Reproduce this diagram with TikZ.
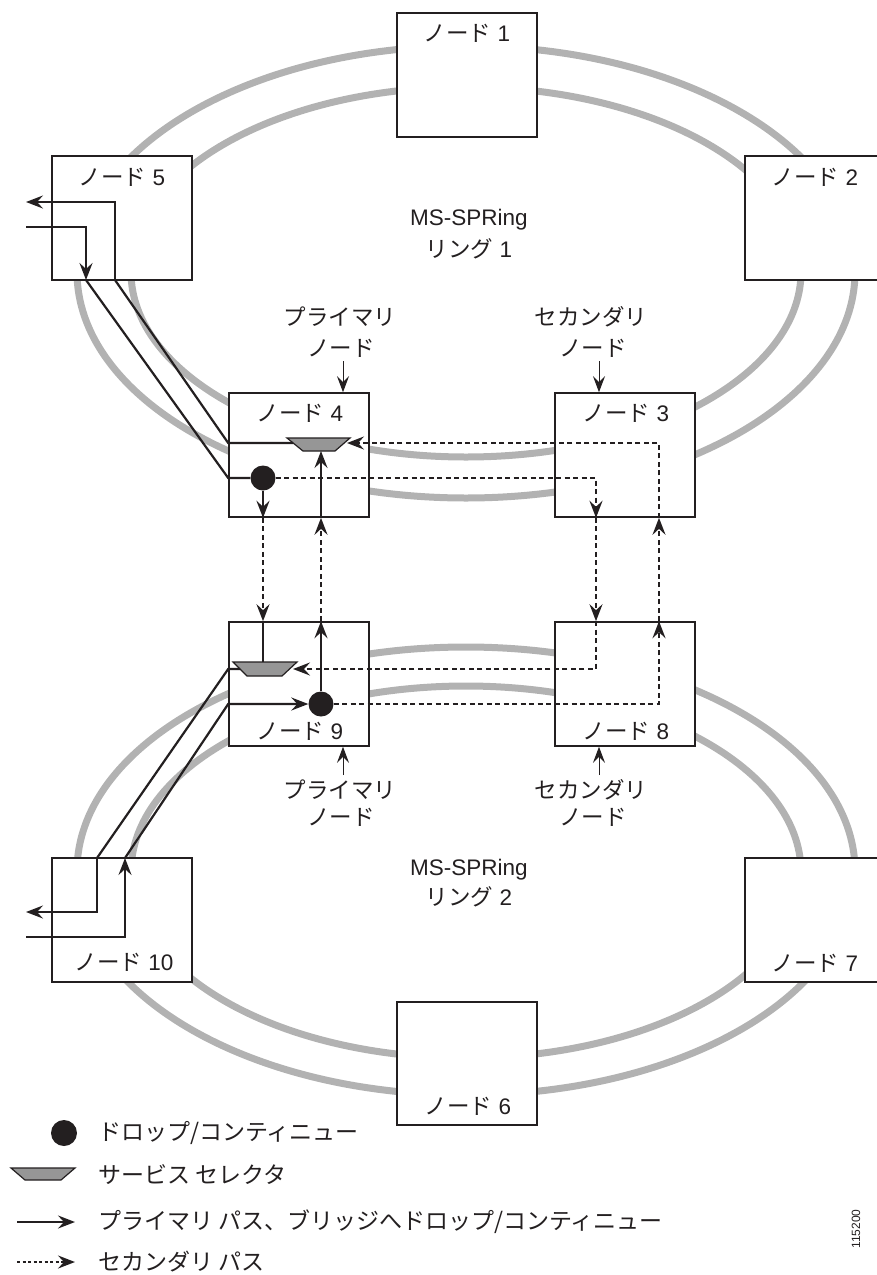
\documentclass[tikz,border=0pt]{standalone}
\usepackage{fontspec}
\setmainfont{Liberation Sans}
\newfontfamily\cjk{Noto Sans CJK JP}
\newcommand{\jp}[1]{{\cjk #1}}
\usetikzlibrary{arrows.meta}
\definecolor{ringgray}{RGB}{178,178,178}
\definecolor{selgray}{RGB}{150,150,150}
\definecolor{ink}{RGB}{35,31,32}
\begin{document}
\begin{tikzpicture}[x=1pt,y=-1pt,
  ring/.style={draw=ringgray, line width=7pt},
  box/.style={draw=ink, line width=1.6pt, fill=white, minimum width=140pt, minimum height=124pt, inner sep=0pt},
  lbl/.style={font=\fontsize{22.5}{26}\selectfont, inner sep=0pt, text=ink},
  leg/.style={font=\fontsize{23}{27}\selectfont, inner sep=0pt, anchor=west, text=ink},
  sol/.style={draw=ink, line width=2.2pt},
  dsh/.style={draw=ink, line width=2.2pt, dash pattern=on 5pt off 3.5pt},
  tip/.style={-{Stealth[length=17pt,width=13pt,inset=6pt]}},
  sel/.style={draw=ink, fill=selgray, line width=1.2pt},
  dotc/.style={circle, fill=ink, minimum size=25pt, inner sep=0pt},
  ptr/.style={draw=ink, line width=1pt, -{Stealth[length=16pt,width=12pt,inset=6pt]}},
]
\useasboundingbox (0,0) rectangle (876,1275);

% rings
\draw[ring] (466,272) ellipse [x radius=389pt, y radius=226pt];
\draw[ring] (466,272) ellipse [x radius=335pt, y radius=185pt];
\draw[ring] (466,871) ellipse [x radius=389pt, y radius=224pt];
\draw[ring] (466,872) ellipse [x radius=335pt, y radius=186pt];

% boxes
\node[box] (n1) at (467,75) {};
\node[box] (n5) at (122,218) {};
\node[box] (n2) at (815,218) {};
\node[box] (n4) at (299,455) {};
\node[box] (n3) at (625,455) {};
\node[box] (n9) at (299,684) {};
\node[box] (n8) at (625,684) {};
\node[box] (n10) at (122,920) {};
\node[box] (n7) at (815,920) {};
\node[box, minimum height=123pt] (n6) at (467,1063.5) {};

% box labels
\node[lbl] (l1) at (467,33) {\jp{ノード} 1};
\node[lbl] (l5) at (122,177) {\jp{ノード} 5};
\node[lbl] (l2) at (815,177) {\jp{ノード} 2};
\node[lbl] (l4) at (300,413) {\jp{ノード} 4};
\node[lbl] (l3) at (626,413) {\jp{ノード} 3};
\node[lbl] (l9) at (300,731) {\jp{ノード} 9};
\node[lbl] (l8) at (626,731) {\jp{ノード} 8};
\node[lbl] (l10) at (124,962) {\jp{ノード} 10};
\node[lbl] (l7) at (815,963) {\jp{ノード} 7};
\node[lbl] (l6) at (468,1106) {\jp{ノード} 6};

% ring labels
\node[lbl] (r1a) at (469,220) {MS-SPRing};
\node[lbl] (r1b) at (469,249) {\jp{リング} 1};
\node[lbl] (r2a) at (469,870) {MS-SPRing};
\node[lbl] (r2b) at (469,897) {\jp{リング} 2};

% primary / secondary labels
\node[lbl] (pa1) at (340,317) {\jp{プライマリ}};
\node[lbl] (pb1) at (341,348) {\jp{ノード}};
\node[lbl] (sa1) at (591,317) {\jp{セカンダリ}};
\node[lbl] (sb1) at (593,348) {\jp{ノード}};
\node[lbl] (pa2) at (340,790) {\jp{プライマリ}};
\node[lbl] (pb2) at (341,817) {\jp{ノード}};
\node[lbl] (sa2) at (591,790) {\jp{セカンダリ}};
\node[lbl] (sb2) at (593,817) {\jp{ノード}};
\coordinate (p1) at (343,361);
\coordinate (p2) at (599,361);
\coordinate (p3) at (343,775);
\coordinate (p4) at (599,775);
\draw[ptr] (p1) -- (p1 |- n4.north);
\draw[ptr] (p2) -- (p2 |- n3.north);
\draw[ptr] (p3) -- (p3 |- n9.south);
\draw[ptr] (p4) -- (p4 |- n8.south);

% service selectors
\draw[sel] (287,438) coordinate (s4tl) -- (350,438) coordinate (s4tr) -- (335,451) coordinate (s4br) -- (303,451) coordinate (s4bl) -- cycle;
\coordinate (s4L) at (293,443);
\coordinate (s4R) at (347,443);
\coordinate (s4B) at (320,451);
\draw[sel] (233,662) coordinate (s9tl) -- (297,662) coordinate (s9tr) -- (282,676) coordinate (s9br) -- (247,676) coordinate (s9bl) -- cycle;
\coordinate (s9L) at (240,669);
\coordinate (s9R) at (293,669);
\coordinate (s9T) at (263,662);

% drop/continue dots
\node[dotc] (d4) at (263,478) {};
\node[dotc] (d9) at (321,704) {};

% ring 1 side paths (node 5)
\coordinate (o5a) at (26,202);
\coordinate (o5b) at (115,202);
\coordinate (o5c) at (115,280);
\coordinate (i5a) at (26,227);
\coordinate (i5b) at (86,227);
\coordinate (i5c) at (86,280);
\draw[sol] (s4L) -- (n4.west |- s4L) -- (o5c);
\draw[sol,tip] (o5c) -- (o5b) -- (o5a);
\draw[sol,tip] (i5a) -- (i5b) -- (i5c);
\draw[sol] (i5c) -- (n4.west |- d4) -- (d4);

% ring 2 side paths (node 10)
\coordinate (o10b) at (97,858);
\coordinate (o10c) at (97,912);
\coordinate (o10a) at (26,912);
\coordinate (i10a) at (26,937);
\coordinate (i10b) at (125,937);
\coordinate (i10c) at (125,858);
\draw[sol] (s9L) -- (n9.west |- s9L) -- (o10b);
\draw[sol,tip] (o10b) -- (o10c) -- (o10a);
\draw[sol,tip] (i10a) -- (i10b) -- (i10c);
\draw[sol,tip] (i10c) -- (n9.west |- d9) -- (d9.west);

% primary interconnect
\draw[sol,tip] (d4) -- (d4 |- n4.south);
\draw[dsh,tip] (d4 |- n4.south) -- (d4 |- n9.north);
\draw[sol] (d4 |- n9.north) -- (s9T);
\draw[sol,tip] (d9) -- (d9 |- n9.north);
\draw[dsh,tip] (d9 |- n9.north) -- (d9 |- n4.south);
\draw[sol,tip] (d9 |- n4.south) -- (d9 |- s4B);

% secondary paths
\coordinate (c3a) at (596,478);
\coordinate (c8b) at (596,669);
\coordinate (c8a) at (659,704);
\coordinate (c3b) at (659,443);
\draw[dsh,tip] (d4.east) -- (c3a) -- (c3a |- n3.south);
\draw[dsh,tip] (c3a |- n3.south) -- (c3a |- n8.north);
\draw[dsh,tip] (c3a |- n8.north) -- (c8b) -- (s9R);
\draw[dsh,tip] (d9.east) -- (c8a) -- (c8a |- n8.north);
\draw[dsh,tip] (c8a |- n8.north) -- (c8a |- n3.south);
\draw[dsh,tip] (c8a |- n3.south) -- (c3b) -- (s4R);

% legend
\node[dotc, minimum size=26pt] (ld) at (64,1133) {};
\node[leg] (lt1) at (98,1133) {\jp{ドロップ/コンティニュー}};
\draw[sel] (11,1168) coordinate (ls1) -- (75,1168) coordinate (ls2) -- (61,1180) coordinate (ls3) -- (25,1180) coordinate (ls4) -- cycle;
\node[leg] (lt2) at (98,1175) {\jp{サービス セレクタ}};
\coordinate (la1) at (17,1222);
\coordinate (la2) at (75,1222);
\draw[sol,tip] (la1) -- (la2);
\node[leg] (lt3) at (98,1222) {\jp{プライマリ パス、ブリッジへドロップ/コンティニュー}};
\coordinate (lb1) at (17,1262);
\coordinate (lb2) at (75,1262);
\draw[draw=ink, line width=2.2pt, dash pattern=on 3pt off 2.5pt, tip] (lb1) -- (lb2);
\node[leg] (lt4) at (98,1262) {\jp{セカンダリ パス}};

% figure id
\node[font=\fontsize{12}{13}\selectfont, rotate=90, inner sep=0pt, text=ink] (fid) at (856,1229) {115200};
\end{tikzpicture}
\end{document}
